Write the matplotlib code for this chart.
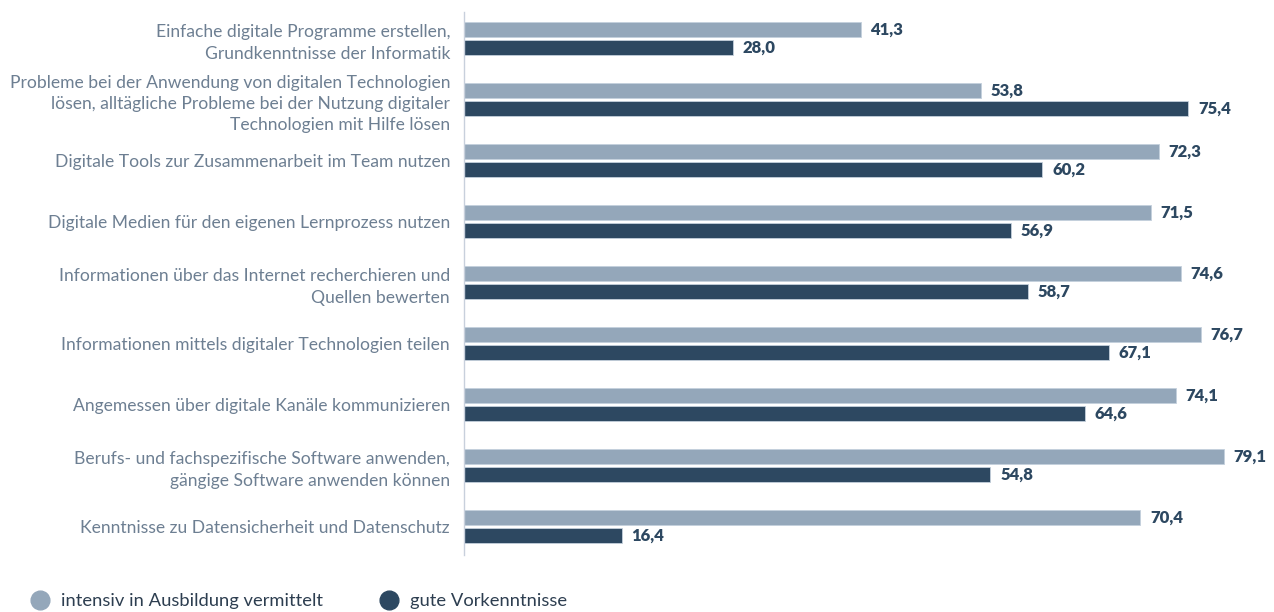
import numpy as np
import matplotlib.pyplot as plt
from matplotlib.lines import Line2D

plt.rcParams['font.family'] = ['Lato', 'DejaVu Sans']

categories = [
    "Einfache digitale Programme erstellen,\nGrundkenntnisse der Informatik",
    "Probleme bei der Anwendung von digitalen Technologien\nlösen, alltägliche Probleme bei der Nutzung digitaler\nTechnologien mit Hilfe lösen",
    "Digitale Tools zur Zusammenarbeit im Team nutzen",
    "Digitale Medien für den eigenen Lernprozess nutzen",
    "Informationen über das Internet recherchieren und\nQuellen bewerten",
    "Informationen mittels digitaler Technologien teilen",
    "Angemessen über digitale Kanäle kommunizieren",
    "Berufs- und fachspezifische Software anwenden,\ngängige Software anwenden können",
    "Kenntnisse zu Datensicherheit und Datenschutz",
]
intensiv = [41.3, 53.8, 72.3, 71.5, 74.6, 76.7, 74.1, 79.1, 70.4]
vorkenntnisse = [28.0, 75.4, 60.2, 56.9, 58.7, 67.1, 64.6, 54.8, 16.4]
series_names = ["intensiv in Ausbildung vermittelt", "gute Vorkenntnisse"]

light = '#94a7ba'
dark = '#2d4861'
label_col = '#6d7f92'

fig = plt.figure(figsize=(12.74, 6.12), dpi=100)
ax = fig.add_axes([464 / 1274, 1 - 555 / 612, 807 / 1274, 543 / 612])

y = np.arange(len(categories))
h = 0.246
off = 0.1475
ax.barh(y - off, intensiv, height=h, color=light, edgecolor='#c4d0dc', linewidth=0.6)
ax.barh(y + off, vorkenntnisse, height=h, color=dark, edgecolor='#c4d0dc', linewidth=0.6)

def fmt(v):
    return f"{v:.1f}".replace('.', ',')

for yi, a, b in zip(y, intensiv, vorkenntnisse):
    ax.annotate(fmt(a), (a, yi - off), xytext=(7, 0), textcoords='offset points',
                va='center', ha='left', fontsize=12, fontweight='heavy', color=dark)
    ax.annotate(fmt(b), (b, yi + off), xytext=(7, 0), textcoords='offset points',
                va='center', ha='left', fontsize=12, fontweight='heavy', color=dark)

ax.set_xlim(0, 84)
ax.set_ylim(8.46, -0.44)
ax.set_yticks(y)
ax.set_yticklabels(categories, fontsize=12.6, color=label_col, ha='right', linespacing=1.4)
ax.tick_params(axis='y', length=0, pad=10)
ax.set_xticks([])
for s in ['top', 'right', 'bottom']:
    ax.spines[s].set_visible(False)
ax.spines['left'].set_color('#c8d0dc')
ax.spines['left'].set_linewidth(1)

handles = [Line2D([], [], marker='o', ls='', ms=13.5, color=light),
           Line2D([], [], marker='o', ls='', ms=13.5, color=dark)]
fig.legend(handles, series_names, loc='lower left', bbox_to_anchor=(0.004, -0.022),
           ncol=2, frameon=False, fontsize=13.2, handletextpad=0.15, columnspacing=2.6,
           labelcolor='#2d3e50')

fig.savefig('out.png', dpi=100)
